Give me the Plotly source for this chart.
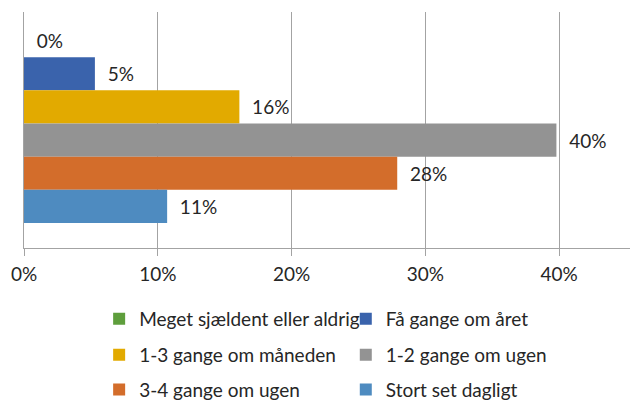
import plotly.graph_objects as go

category = [""]
series_names = [
    "Meget sjældent eller aldrig",
    "Få gange om året",
    "1-3 gange om måneden",
    "1-2 gange om ugen",
    "3-4 gange om ugen",
    "Stort set dagligt",
]
series_values = [0.0, 5.3, 16.1, 39.8, 27.9, 10.7]
series_colors = ["#5E9E3C", "#3A63AC", "#E2AA00", "#939393", "#D36D2B", "#4E8BC0"]
x_ticks = [0, 10, 20, 30, 40]
x_tick_labels = ["0%", "10%", "20%", "30%", "40%"]

FONT = "Lato"
FS = 19
TXT = "#262626"
GRID = "#A3A3A3"

fig = go.Figure()
legend_names = ["legend", "legend2", "legend3", "legend4", "legend5", "legend6"]
for i, (name, val, col) in enumerate(zip(series_names, series_values, series_colors)):
    fig.add_trace(go.Bar(
        y=category, x=[val], name=name, orientation="h",
        marker=dict(color=col, line=dict(width=0)),
        texttemplate="\u00a0\u00a0%{x:.0f}%",
        textposition="outside",
        constraintext="none",
        cliponaxis=False,
        textfont=dict(family=FONT, size=FS, color=TXT),
        legend=legend_names[i],
        hoverinfo="skip",
    ))

# legend positions (2 columns x 3 rows), in paper coords
col_x = [0.124, 0.531]
row_y = [-0.30, -0.453, -0.60]
layout_leg = {}
for i, ln in enumerate(legend_names):
    layout_leg[ln] = dict(
        x=col_x[i % 2], y=row_y[i // 2], xanchor="left", yanchor="middle",
        orientation="h", bgcolor="rgba(0,0,0,0)",
        font=dict(family=FONT, size=FS, color=TXT),
    )

fig.update_layout(
    width=630, height=401,
    margin=dict(l=24, r=0, t=12, b=153, autoexpand=False),
    paper_bgcolor="white", plot_bgcolor="white",
    barmode="group", bargap=0.157, bargroupgap=0,
    showlegend=True,
    xaxis=dict(
        range=[0, 45.3], tickvals=x_ticks, ticktext=x_tick_labels,
        showgrid=True, gridcolor=GRID, gridwidth=1,
        showline=True, linecolor=GRID, linewidth=1,
        ticks="outside", ticklen=7, tickcolor=GRID,
        ticklabelstandoff=2,
        tickfont=dict(family=FONT, size=FS, color=TXT),
        zeroline=False, automargin=False,
    ),
    yaxis=dict(
        type="category", range=[0.5275, -0.4725],
        showticklabels=False, showgrid=False,
        showline=True, linecolor=GRID, linewidth=1, zeroline=False,
        automargin=False,
    ),
    **layout_leg,
)

fig.write_html(
    "out.html",
    config={"displayModeBar": False},
    post_script="document.body.style.margin='0';document.body.style.overflow='hidden';",
)
